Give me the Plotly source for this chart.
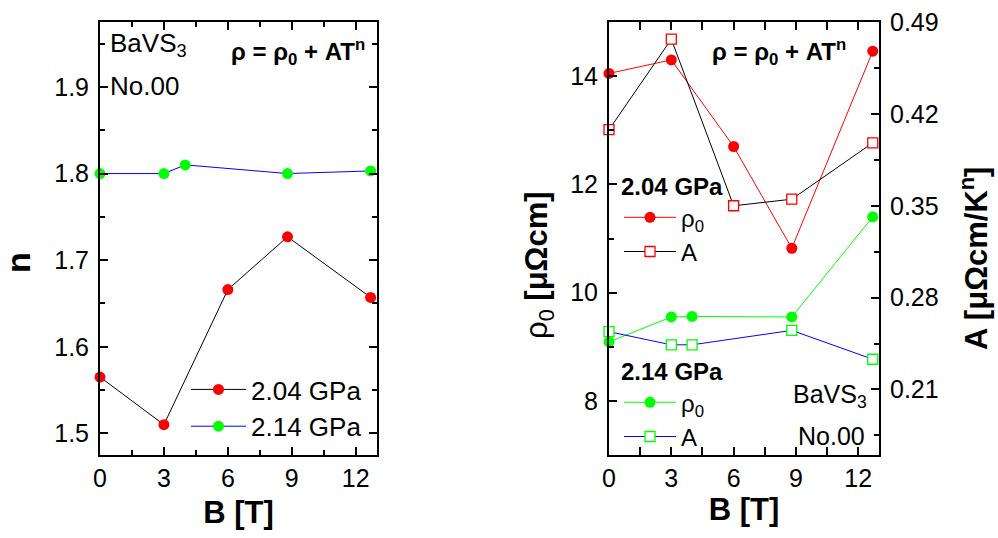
import plotly.graph_objects as go

# ---------------- data ----------------
# left panel: exponent n vs B
B_n_204 = [0, 3, 6, 8.8, 12.7]
n_204 = [1.565, 1.510, 1.666, 1.727, 1.657]
B_n_214 = [0, 3, 4, 8.8, 12.7]
n_214 = [1.800, 1.800, 1.810, 1.800, 1.803]

# right panel: rho0 and A vs B
B_204 = [0, 3, 6, 8.8, 12.7]
rho0_204 = [14.05, 14.30, 12.70, 10.82, 14.46]
A_204 = [0.408, 0.477, 0.350, 0.355, 0.398]
B_214 = [0, 3, 4, 8.8, 12.7]
rho0_214 = [9.09, 9.55, 9.56, 9.55, 11.40]
A_214 = [0.254, 0.244, 0.244, 0.255, 0.233]

x_ticks = [0, 3, 6, 9, 12]
n_ticks = [1.5, 1.6, 1.7, 1.8, 1.9]
rho_ticks = [8, 10, 12, 14]
A_ticks = [0.21, 0.28, 0.35, 0.42, 0.49]

RED = "#FF0000"
GREEN = "#00FF00"
BLUE = "#0000FF"
BLACK = "#000000"
FONT = "Arial, Liberation Sans, sans-serif"

fig = go.Figure()

# left panel
fig.add_trace(go.Scatter(x=B_n_204, y=n_204, mode="lines+markers", name="2.04 GPa",
                         line=dict(color=BLACK, width=1),
                         marker=dict(color=RED, size=11, symbol="circle"),
                         cliponaxis=False, xaxis="x", yaxis="y", legend="legend"))
fig.add_trace(go.Scatter(x=B_n_214, y=n_214, mode="lines+markers", name="2.14 GPa",
                         line=dict(color=BLUE, width=1),
                         marker=dict(color=GREEN, size=11, symbol="circle"),
                         cliponaxis=False, xaxis="x", yaxis="y", legend="legend"))

# right panel 2.04 GPa
fig.add_trace(go.Scatter(x=B_204, y=rho0_204, mode="lines+markers", name="ρ<sub>0</sub>",
                         line=dict(color=RED, width=1),
                         marker=dict(color=RED, size=11, symbol="circle"),
                         cliponaxis=False, xaxis="x2", yaxis="y2", legend="legend2"))
fig.add_trace(go.Scatter(x=B_204, y=A_204, mode="lines+markers", name="A",
                         line=dict(color=BLACK, width=1),
                         marker=dict(color="white", size=10, symbol="square",
                                     line=dict(color=RED, width=1.3)),
                         cliponaxis=False, xaxis="x2", yaxis="y3", legend="legend2"))
# right panel 2.14 GPa
fig.add_trace(go.Scatter(x=B_214, y=rho0_214, mode="lines+markers", name="ρ<sub>0</sub>",
                         line=dict(color=GREEN, width=1),
                         marker=dict(color=GREEN, size=11, symbol="circle"),
                         cliponaxis=False, xaxis="x2", yaxis="y2", legend="legend3"))
fig.add_trace(go.Scatter(x=B_214, y=A_214, mode="lines+markers", name="A",
                         line=dict(color=BLUE, width=1),
                         marker=dict(color="white", size=10, symbol="square",
                                     line=dict(color=GREEN, width=1.3)),
                         cliponaxis=False, xaxis="x2", yaxis="y3", legend="legend3"))

W, H = 998, 538
def px(x):
    return x / W
def py(y):
    return 1 - y / H

ydom = [py(455), py(22)]

common = dict(showline=True, linewidth=2, linecolor=BLACK, ticks="inside",
              ticklen=8, tickwidth=1.5, tickcolor=BLACK, showgrid=False,
              zeroline=False, automargin=False)
minor_common = dict(ticklen=5, tickwidth=1.5, ticks="inside", tickcolor=BLACK)

fig.update_layout(
    width=W, height=H, margin=dict(l=0, r=0, t=0, b=0),
    paper_bgcolor="white", plot_bgcolor="white",
    font=dict(family=FONT, color=BLACK, size=25),
    xaxis=dict(domain=[px(100), px(377)], range=[0, 13], tickvals=x_ticks,
               mirror="allticks", anchor="y",
               minor=dict(dtick=1.5, tick0=0, **minor_common),
               tickfont=dict(size=25),
               title=dict(text="<b>B [T]</b>", font=dict(size=31), standoff=10),
               **common),
    yaxis=dict(domain=ydom, range=[1.475, 1.975], tickvals=n_ticks, tickformat=".1f",
               mirror="allticks", anchor="x",
               minor=dict(dtick=0.05, tick0=1.45, **minor_common),
               tickfont=dict(size=25), ticklabelstandoff=4,
               **common),
    xaxis2=dict(domain=[px(609), px(879)], range=[0, 13], tickvals=x_ticks,
                mirror="allticks", anchor="y2",
                minor=dict(dtick=1.5, tick0=0, **minor_common),
                tickfont=dict(size=25),
                title=dict(text="<b>B [T]</b>", font=dict(size=31), standoff=5),
                **common),
    yaxis2=dict(domain=ydom, range=[7, 15], tickvals=rho_ticks, anchor="x2",
                minor=dict(dtick=1, tick0=7, **minor_common),
                tickfont=dict(size=25), ticklabelstandoff=4,
                **common),
    yaxis3=dict(domain=ydom, range=[0.16, 0.4901], tickvals=A_ticks, tickformat=".2f",
                overlaying="y2", side="right", anchor="x2",
                minor=dict(dtick=0.035, tick0=0.175, **minor_common),
                tickfont=dict(size=25), ticklabelstandoff=4,
                **common),
    legend=dict(x=px(186), y=py(408), xanchor="left", yanchor="middle",
                bgcolor="rgba(0,0,0,0)", font=dict(size=26), itemwidth=55,
                tracegroupgap=0),
    legend2=dict(x=px(619), y=py(164), xanchor="left", yanchor="top",
                 bgcolor="rgba(0,0,0,0)", font=dict(size=24), itemwidth=52,
                 title=dict(text="<b>2.04 GPa</b>", font=dict(size=24))),
    legend3=dict(x=px(619), y=py(349), xanchor="left", yanchor="top",
                 bgcolor="rgba(0,0,0,0)", font=dict(size=24), itemwidth=52,
                 title=dict(text="<b>2.14 GPa</b>", font=dict(size=24))),
    showlegend=True,
)

ann = [
    # left panel texts
    dict(x=px(108), y=py(45), text="BaVS<sub>3</sub>", xanchor="left", yanchor="middle",
         font=dict(size=26)),
    dict(x=px(108), y=py(86), text="No.00", xanchor="left", yanchor="middle",
         font=dict(size=26)),
    dict(x=px(367), y=py(52), text="<b>ρ = ρ<sub>0</sub> + AT<sup>n</sup></b>",
         xanchor="right", yanchor="middle", font=dict(size=24)),
    dict(x=px(18), y=py(263), text="<b>n</b>", textangle=-90, xanchor="center",
         yanchor="middle", font=dict(size=34)),
    # right panel texts
    dict(x=px(848), y=py(52), text="<b>ρ = ρ<sub>0</sub> + AT<sup>n</sup></b>",
         xanchor="right", yanchor="middle", font=dict(size=24)),
    dict(x=px(869), y=py(396), text="BaVS<sub>3</sub>", xanchor="right", yanchor="middle",
         font=dict(size=25)),
    dict(x=px(867), y=py(436), text="No.00", xanchor="right", yanchor="middle",
         font=dict(size=25)),
    dict(x=px(539), y=py(265), text="ρ<sub>0</sub> <b>[μΩcm]</b>", textangle=-90,
         xanchor="center", yanchor="middle", font=dict(size=31)),
    dict(x=px(974), y=py(259), text="<b>A [μΩcm/K<sup>n</sup>]</b>", textangle=-90,
         xanchor="center", yanchor="middle", font=dict(size=31)),
]
for a in ann:
    a.update(xref="paper", yref="paper", showarrow=False)
fig.update_layout(annotations=ann)

fig.write_html("out.html", config={"displayModeBar": False},
               post_script="document.body.style.margin='0px';")
